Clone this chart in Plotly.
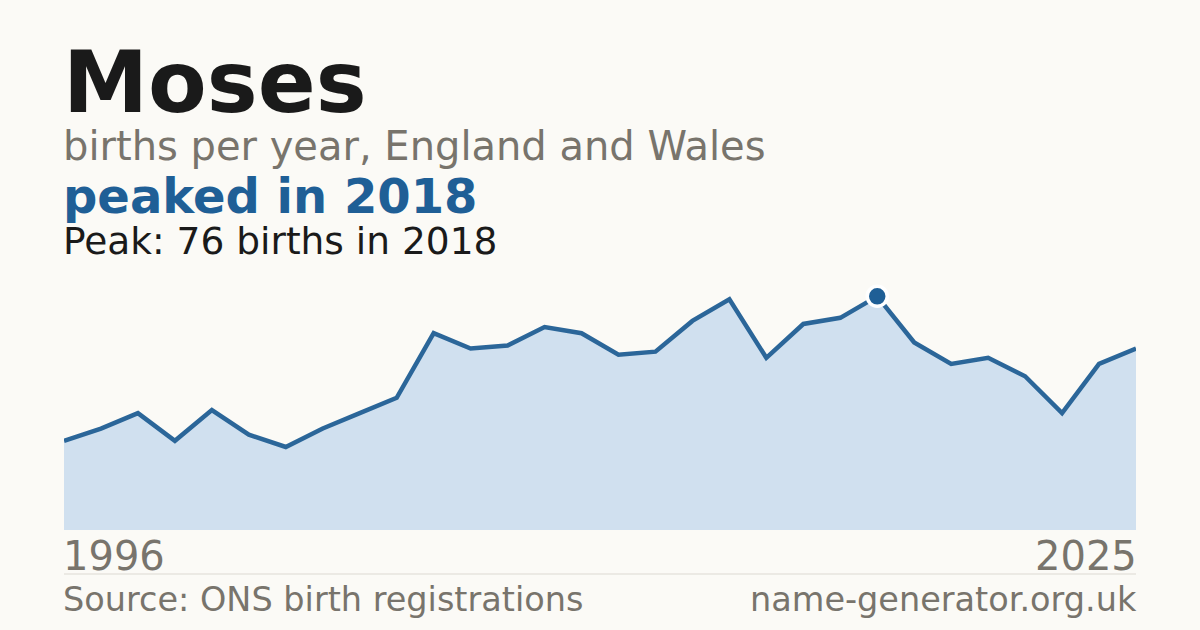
import plotly.graph_objects as go

years = list(range(1996, 2026))
births = [29, 33, 38, 29, 39, 31, 27, 33, 38, 43,
          64, 59, 60, 66, 64, 57, 58, 68, 75, 56,
          67, 69, 76, 61, 54, 56, 50, 38, 54, 59]
peak_year = 2018
peak_value = 76

title_text = "Moses"
subtitle_text = "births per year, England and Wales"
headline_text = "peaked in 2018"
detail_text = "Peak: 76 births in 2018"
source_text = "Source: ONS birth registrations"
site_text = "name-generator.org.uk"

BG = "#fbfaf6"
GRAY = "#78746c"
DARK = "#1a1a1a"
BLUE = "#1f5f96"
LINE = "#2b6699"
FILL = "#d0e0ef"
FONT = "DejaVu Sans"

W, H = 1200, 630
ML, MR, MT, MB = 64, 64, 284, 100
PLOT_BOTTOM = H - MB
PLOT_H = H - MT - MB


def py(p):
    return (PLOT_BOTTOM - p) / PLOT_H


fig = go.Figure()
fig.add_trace(go.Scatter(
    x=years, y=births, mode="lines", fill="tozeroy",
    fillcolor=FILL, line=dict(color=LINE, width=4.5),
    hoverinfo="skip", showlegend=False,
))
fig.add_trace(go.Scatter(
    x=[peak_year], y=[peak_value], mode="markers",
    marker=dict(size=20, color=BLUE, line=dict(color="white", width=3.5)),
    hoverinfo="skip", showlegend=False, cliponaxis=False,
))

anns = [
    dict(text=f"<b>{title_text}</b>", x=0, y=py(82), size=85.5, color=DARK, xanchor="left"),
    dict(text=subtitle_text, x=0, y=py(146), size=40, color=GRAY, xanchor="left"),
    dict(text=f"<b>{headline_text}</b>", x=0, y=py(196), size=48, color=BLUE, xanchor="left"),
    dict(text=detail_text, x=0, y=py(241), size=37.5, color=DARK, xanchor="left"),
    dict(text=str(years[0]), x=0, y=py(556), size=40, color=GRAY, xanchor="left"),
    dict(text=str(years[-1]), x=1, y=py(556), size=40, color=GRAY, xanchor="right"),
    dict(text=source_text, x=0, y=py(599), size=33.5, color=GRAY, xanchor="left"),
    dict(text=site_text, x=1, y=py(599), size=33.5, color=GRAY, xanchor="right"),
]
annotations = []
for a in anns:
    annotations.append(dict(
        text=a["text"], x=a["x"], y=a["y"], xref="paper", yref="paper",
        xanchor=a["xanchor"], yanchor="middle", showarrow=False,
        xshift=-3 if a["xanchor"] == "left" else 3,
        font=dict(family=FONT, size=a["size"], color=a["color"]),
    ))

fig.update_layout(
    width=W, height=H,
    paper_bgcolor=BG, plot_bgcolor=BG,
    margin=dict(l=ML, r=MR, t=MT, b=MB),
    xaxis=dict(range=[years[0], years[-1]], showgrid=False, zeroline=False,
               showticklabels=False, showline=False, fixedrange=True),
    yaxis=dict(range=[0, 80], showgrid=False, zeroline=False,
               showticklabels=False, showline=False, fixedrange=True),
    annotations=annotations,
    shapes=[dict(type="line", xref="paper", yref="paper", x0=0, x1=1,
                 y0=py(574), y1=py(574), line=dict(color="#dcd9d2", width=1))],
)

fig.write_html(
    "out.html",
    config={"displayModeBar": False},
    post_script="document.body.style.margin='0';document.body.style.background='%s';" % BG,
)
